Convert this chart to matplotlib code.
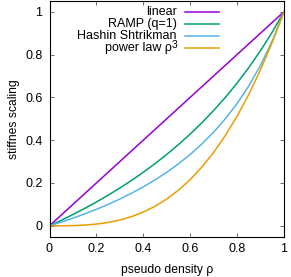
import matplotlib
matplotlib.use('Agg')
import matplotlib.pyplot as plt
from matplotlib.lines import Line2D

# pseudo density samples and the stiffness scaling
rho = [0.0, 0.05, 0.1, 0.15, 0.2, 0.25, 0.3, 0.35, 0.4, 0.45, 0.5,
       0.55, 0.6, 0.65, 0.7, 0.75, 0.8, 0.85, 0.9, 0.95, 1.0]
linear = [0.0, 0.05, 0.1, 0.15, 0.2, 0.25, 0.3, 0.35, 0.4, 0.45, 0.5,
          0.55, 0.6, 0.65, 0.7, 0.75, 0.8, 0.85, 0.9, 0.95, 1.0]
ramp = [0.0, 0.0256, 0.0526, 0.0811, 0.1111, 0.1429, 0.1765, 0.2121, 0.25, 0.2903, 0.3333,
        0.3793, 0.4286, 0.4815, 0.5385, 0.6, 0.6667, 0.7391, 0.8182, 0.9048, 1.0]
hashin = [0.0, 0.0172, 0.0357, 0.0556, 0.0769, 0.1, 0.125, 0.1522, 0.1818, 0.2143, 0.25,
          0.2895, 0.3333, 0.3824, 0.4375, 0.5, 0.5714, 0.6538, 0.75, 0.8636, 1.0]
power = [0.0, 0.0001, 0.001, 0.0034, 0.008, 0.0156, 0.027, 0.0429, 0.064, 0.0911, 0.125,
         0.1664, 0.216, 0.2746, 0.343, 0.4219, 0.512, 0.6141, 0.729, 0.8574, 1.0]

labels = ['linear', 'RAMP (q=1)', 'Hashin Shtrikman', 'power law ρ']
colors = ['#9400d3', '#009e73', '#56b4e9', '#e69f00']

plt.rcParams['font.family'] = ['Liberation Sans', 'DejaVu Sans']

W, H = 291, 277
fig = plt.figure(figsize=(W / 100, H / 100), dpi=100)
ax = fig.add_axes([49.5 / W, 1 - 236.5 / H, 234.5 / W, 235.5 / H])

for ys, c in zip([linear, ramp, hashin, power], colors):
    ax.plot(rho, ys, color=c, lw=1.1)

ax.set_xlim(0, 1)
ax.set_ylim(-0.05, 1.05)
ax.set_xticks([0, 0.2, 0.4, 0.6, 0.8, 1])
ax.set_xticklabels(['0', '0.2', '0.4', '0.6', '0.8', '1'])
ax.set_yticks([0, 0.2, 0.4, 0.6, 0.8, 1])
ax.set_yticklabels(['0', '0.2', '0.4', '0.6', '0.8', '1'])
ax.tick_params(direction='in', length=3, width=0.6, color='#555555',
               labelsize=9, top=True, right=True, pad=5)
for s in ax.spines.values():
    s.set_linewidth(0.8)

ax.set_xlabel('pseudo density ρ', fontsize=8.7, labelpad=6)
ax.set_ylabel('stiffnes scaling', fontsize=8.7, labelpad=4)

# gnuplot style key: right aligned text, sample line to its right
row_y = [12.3, 24.0, 35.7, 47.8]
for lab, c, y in zip(labels, colors, row_y):
    fy = 1 - y / H
    x_end = 177 if lab != labels[-1] else 171.5
    fig.text(x_end / W, fy, lab, ha='right', va='center', fontsize=9)
    fig.add_artist(Line2D([185 / W, 219 / W], [fy, fy], color=c, lw=1.1))
fig.text(172 / W, 1 - 45 / H, '3', ha='left', va='center', fontsize=7.5)

fig.savefig('out.png', dpi=100)
